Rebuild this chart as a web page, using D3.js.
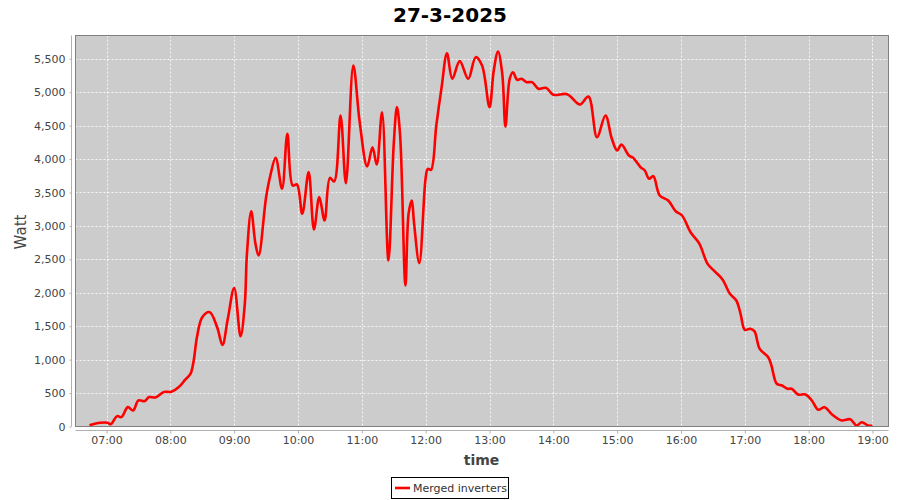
<!DOCTYPE html>
<html>
<head>
<meta charset="utf-8">
<script src="https://cdn.jsdelivr.net/npm/d3@7"></script>
<style>
  html, body { margin: 0; padding: 0; background: #ffffff; }
  svg { display: block; font-family: "DejaVu Sans", sans-serif; }
</style>
</head>
<body>
<svg id="chart" width="900" height="500"></svg>
<script>
const chartTitle = "27-3-2025";
const seriesName = "Merged inverters";
const xLabel = "time";
const yLabel = "Watt";

const times = [
  "06:44","06:54","07:01","07:04","07:10","07:14","07:20","07:25","07:30","07:36",
  "07:40","07:46","07:54","08:01","08:08","08:14","08:19","08:22","08:25","08:30",
  "08:37","08:44","08:49","08:54","09:00","09:06","09:10","09:12","09:16","09:20",
  "09:23","09:30","09:34","09:39","09:45","09:50","09:55","09:59","10:04","10:10",
  "10:15","10:20","10:25","10:30","10:34","10:40","10:45","10:52","10:58","11:05",
  "11:10","11:14","11:19","11:25","11:30","11:33","11:36","11:41","11:44","11:47",
  "11:49","11:54","12:00","12:02","12:05","12:10","12:15","12:20","12:25","12:32",
  "12:40","12:47","12:53","13:00","13:04","13:08","13:12","13:15","13:19","13:22",
  "13:26","13:30","13:35","13:40","13:46","13:53","14:00","14:13","14:25","14:33",
  "14:41","14:49","14:55","15:00","15:04","15:11","15:15","15:22","15:26","15:30",
  "15:34","15:40","15:48","15:55","16:01","16:09","16:17","16:25","16:31","16:39",
  "16:46","16:52","16:56","17:00","17:05","17:09","17:14","17:22","17:25","17:30",
  "17:35","17:40","17:44","17:50","17:57","18:03","18:09","18:15","18:22","18:31",
  "18:39","18:45","18:50","18:56","19:00"
];
const watts = [
  20,55,55,35,155,140,290,240,390,380,
  440,435,515,520,590,700,790,990,1335,1635,
  1710,1485,1220,1610,2070,1350,1835,2583,3220,2733,
  2557,3430,3754,4019,3555,4378,3604,3620,3181,3804,
  2946,3430,3081,3719,3664,4651,3640,5399,4550,3889,
  4177,3919,4701,2483,4228,4776,4352,2109,3190,3380,
  3056,2443,3720,3854,3839,4502,5075,5580,5200,5464,
  5200,5524,5399,4776,5324,5609,5275,4487,5200,5299,
  5185,5200,5150,5150,5051,5066,4961,4970,4816,4936,
  4327,4651,4303,4128,4218,4053,4019,3878,3829,3705,
  3744,3455,3380,3220,3156,2906,2742,2433,2330,2200,
  1985,1885,1686,1446,1461,1426,1162,1037,912,639,
  613,564,564,479,479,389,250,289,179,90,
  109,15,64,15,10
];
const yTicks = [0,500,1000,1500,2000,2500,3000,3500,4000,4500,5000,5500];
const xTickLabels = ["07:00","08:00","09:00","10:00","11:00","12:00","13:00","14:00","15:00","16:00","17:00","18:00","19:00"];

const parse = d3.timeParse("%H:%M:%S");
const data = times.map((t, i) => ({ t: parse(t + ":00"), v: watts[i] }));

const svg = d3.select("#chart");
const L = 75.5, R = 888.5, T = 35.5, B = 426.5;

const x = d3.scaleTime()
  .domain([parse("06:30:51"), parse("19:15:03")])
  .range([L, R]);
const y = d3.scaleLinear().domain([0, 5848]).range([B, T]);

// title
svg.append("text").attr("x", 450).attr("y", 21.5).attr("text-anchor", "middle")
  .attr("font-size", 20).attr("font-weight", "bold").attr("fill", "#000").text(chartTitle);

// plot background
svg.append("rect").attr("x", L).attr("y", T).attr("width", R - L).attr("height", B - T)
  .attr("fill", "#cccccc");

// gridlines
const grid = svg.append("g");
xTickLabels.forEach(s => {
  const xx = Math.round(x(parse(s + ":00"))) + 0.5;
  grid.append("line").attr("x1", xx).attr("x2", xx).attr("y1", T).attr("y2", B)
    .attr("stroke", "#ffffff").attr("stroke-width", 1).attr("stroke-dasharray", "2,2").attr("opacity", 0.85);
});
yTicks.forEach(v => {
  const yy = Math.round(y(v)) + 0.5;
  grid.append("line").attr("x1", L).attr("x2", R).attr("y1", yy).attr("y2", yy)
    .attr("stroke", "#ffffff").attr("stroke-width", 1).attr("stroke-dasharray", "2,2").attr("opacity", 0.85);
});

// line
const line = d3.line().x(d => x(d.t)).y(d => y(d.v)).curve(d3.curveCatmullRom.alpha(0.5));
const clip = svg.append("clipPath").attr("id", "clip").append("rect")
  .attr("x", L).attr("y", T).attr("width", R - L).attr("height", B - T);
svg.append("path").datum(data).attr("d", line).attr("fill", "none")
  .attr("stroke", "#ff0000").attr("stroke-width", 2.6).attr("stroke-linejoin", "round")
  .attr("clip-path", "url(#clip)");

// plot outline
svg.append("rect").attr("x", L).attr("y", T).attr("width", R - L).attr("height", B - T)
  .attr("fill", "none").attr("stroke", "#808080").attr("stroke-width", 1);

// y axis (offset left)
const yAxis = d3.axisLeft(y).tickValues(yTicks).tickFormat(d3.format(",")).tickSize(2).tickPadding(4);
const gy = svg.append("g").attr("transform", "translate(71.5,0)").call(yAxis);
gy.select(".domain").attr("stroke", "#b0b0b0").attr("d", `M0,${T}V${B}`);
gy.selectAll(".tick line").attr("stroke", "#b0b0b0");
gy.selectAll(".tick text").attr("fill", "#444").attr("font-size", 11)
  .attr("font-family", "DejaVu Sans, sans-serif");

// x axis (offset below)
const xAxis = d3.axisBottom(x).tickValues(xTickLabels.map(s => parse(s + ":00")))
  .tickFormat(d3.timeFormat("%H:%M")).tickSize(3).tickPadding(3);
const gx = svg.append("g").attr("transform", "translate(0,430.5)").call(xAxis);
gx.select(".domain").attr("stroke", "#b0b0b0").attr("d", `M${L},0H${R}`);
gx.selectAll(".tick line").attr("stroke", "#b0b0b0");
gx.selectAll(".tick text").attr("fill", "#444").attr("font-size", 11)
  .attr("font-family", "DejaVu Sans, sans-serif");

// axis labels
svg.append("text").attr("transform", "translate(26,232) rotate(-90)").attr("text-anchor", "middle")
  .attr("font-size", 15).attr("fill", "#444").text(yLabel);
svg.append("text").attr("x", 481.5).attr("y", 465).attr("text-anchor", "middle")
  .attr("font-size", 14).attr("font-weight", "bold").attr("fill", "#444").text(xLabel);

// legend
const lg = svg.append("g");
lg.append("rect").attr("x", 391.5).attr("y", 477.5).attr("width", 117).attr("height", 21)
  .attr("fill", "#fff").attr("stroke", "#000").attr("stroke-width", 1);
lg.append("line").attr("x1", 395).attr("x2", 410).attr("y1", 488).attr("y2", 488)
  .attr("stroke", "#ff0000").attr("stroke-width", 2.6);
lg.append("text").attr("x", 413).attr("y", 492).attr("font-size", 11).attr("fill", "#333").text(seriesName);
</script>
</body>
</html>
